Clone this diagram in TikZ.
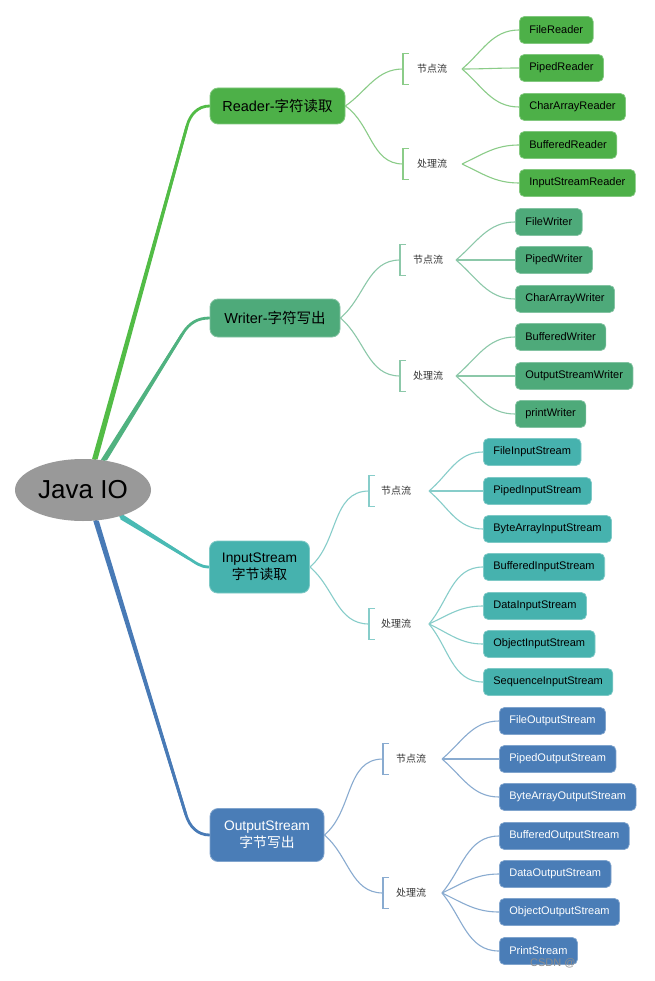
\documentclass[tikz,border=0pt]{standalone}
\usepackage{fontspec}
\setmainfont{Liberation Sans}
\newfontfamily\cjk{Noto Sans CJK SC}
\usetikzlibrary{shapes.geometric,calc}
\pgfdeclarelayer{back}
\pgfdeclarelayer{bg}
\pgfsetlayers{back,bg,main}
\definecolor{rootgray}{RGB}{153,153,153}
\definecolor{rdbox}{RGB}{77,176,72}
\definecolor{rdline}{RGB}{82,188,70}
\definecolor{wrbox}{RGB}{78,170,122}
\definecolor{wrline}{RGB}{80,178,128}
\definecolor{isbox}{RGB}{70,178,174}
\definecolor{isline}{RGB}{74,186,180}
\definecolor{osbox}{RGB}{74,125,183}
\definecolor{osline}{RGB}{72,122,182}
\tikzset{
  leaf/.style={rounded corners=5pt, minimum height=27pt, inner xsep=10pt, anchor=west,
    font=\fontsize{11}{13}\selectfont, line width=0.7pt},
  mainbox/.style={rounded corners=8pt, align=center, line width=0.8pt, inner sep=2pt},
  lvA/.style={font=\fontsize{14.5}{17}\selectfont},
  lvB/.style={font=\fontsize{13.8}{17}\selectfont},
  cat/.style={font=\cjk\fontsize{10}{12}\selectfont, text=black!80, inner sep=1pt},
  twig/.style={line width=1.1pt},
  trunk/.style={line width=2.8pt, line cap=round},
  rdleaf/.style={leaf, fill=rdbox, draw=rdbox!70!white, text=black},
  wrleaf/.style={leaf, fill=wrbox, draw=wrbox!70!white, text=black},
  isleaf/.style={leaf, fill=isbox, draw=isbox!70!white, text=black},
  osleaf/.style={leaf, fill=osbox, draw=osbox!70!white, text=white},
}
\begin{document}
\begin{tikzpicture}[x=1pt,y=-1pt]
\begin{pgfonlayer}{back}
\fill[white] (0,0) rectangle (654,981);
\end{pgfonlayer}
\useasboundingbox (0,0) rectangle (654,981);

% root
\node[ellipse, fill=rootgray, minimum width=136pt, minimum height=62pt, inner sep=0pt,
  font=\fontsize{26}{30}\selectfont] (root) at (83,490) {Java IO};

% level 1
\node[mainbox, lvA, fill=rdbox, draw=rdbox!70!white, minimum width=135pt, minimum height=36pt]
  (reader) at (277.5,106) {Reader-{\cjk 字符读取}};
\node[mainbox, lvA, fill=wrbox, draw=wrbox!70!white, minimum width=130pt, minimum height=38pt]
  (writer) at (275,318) {Writer-{\cjk 字符写出}};
\node[mainbox, lvB, fill=isbox, draw=isbox!70!white, minimum width=100pt, minimum height=52pt]
  (instream) at (259.5,567) {InputStream\\{\cjk 字节读取}};
\node[mainbox, lvB, fill=osbox, draw=osbox!70!white, text=white, minimum width=114pt, minimum height=53pt]
  (outstream) at (267,835) {OutputStream\\{\cjk 字节写出}};

% trunks (tapered)
\coordinate (rdbend) at (187,126);
\coordinate (wrbend) at (183,333);
\coordinate (isbend) at (188,558);
\coordinate (osbend) at (186,815);
\begin{pgfonlayer}{bg}
\draw[trunk, rdline] (root.69) -- (rdbend) to[out=75,in=180] (reader.west);
\fill[rdline] ($(root.69)+(-2.8,0)$) -- ($(rdbend)+(-1.4,0)$) -- ($(rdbend)+(1.4,0)$) -- ($(root.69)+(2.8,0)$) -- cycle;
\draw[trunk, wrline] (root.55) -- (wrbend) to[out=57,in=180] (writer.west);
\fill[wrline] ($(root.55)+(-3.2,0)$) -- ($(wrbend)+(-1.6,0)$) -- ($(wrbend)+(1.6,0)$) -- ($(root.55)+(3.2,0)$) -- cycle;
\draw[trunk, isline] (root.-35) -- (isbend) to[out=-31,in=180] (instream.west);
\fill[isline] ($(root.-35)+(0,-3.2)$) -- ($(isbend)+(0,-1.6)$) -- ($(isbend)+(0,1.6)$) -- ($(root.-35)+(0,3.2)$) -- cycle;
\draw[trunk, osline] (root.-67) -- (osbend) to[out=-73,in=180] (outstream.west);
\fill[osline] ($(root.-67)+(-2.8,0)$) -- ($(osbend)+(-1.4,0)$) -- ($(osbend)+(1.4,0)$) -- ($(root.-67)+(2.8,0)$) -- cycle;
\end{pgfonlayer}

% ---------- Reader ----------
\node[cat] (rdA) at (432,69) {节点流};
\node[cat] (rdB) at (432,164) {处理流};
\coordinate (rdAb) at (403,69);
\coordinate (rdBb) at (403,164);
\coordinate (rdAf) at (462,69);
\coordinate (rdBf) at (462,164);
\draw[twig, rdbox!65!white] (rdAb) ++(6,-15.5) -- ++(-6,0) -- ++(0,31) -- ++(6,0);
\draw[twig, rdbox!65!white] (rdBb) ++(6,-15.5) -- ++(-6,0) -- ++(0,31) -- ++(6,0);
\draw[twig, rdbox!65!white] (reader.east) to[out=35,in=180] (rdAb);
\draw[twig, rdbox!65!white] (reader.east) to[out=-35,in=180] (rdBb);
\foreach \nm/\y/\o in {FileReader/30/40, PipedReader/68/0, CharArrayReader/107/-40}{
  \node[rdleaf] (\nm) at (519,\y) {\nm};
  \draw[twig, rdbox!65!white] (rdAf) to[out=\o,in=180] (\nm.west);
}
\foreach \nm/\y/\o in {BufferedReader/145/25, InputStreamReader/183/-25}{
  \node[rdleaf] (\nm) at (519,\y) {\nm};
  \draw[twig, rdbox!65!white] (rdBf) to[out=\o,in=180] (\nm.west);
}

% ---------- Writer ----------
\node[cat] (wrA) at (428,260) {节点流};
\node[cat] (wrB) at (428,376) {处理流};
\coordinate (wrAb) at (400,260);
\coordinate (wrBb) at (400,376);
\coordinate (wrAf) at (456,260);
\coordinate (wrBf) at (456,376);
\draw[twig, wrbox!65!white] (wrAb) ++(6,-15.5) -- ++(-6,0) -- ++(0,31) -- ++(6,0);
\draw[twig, wrbox!65!white] (wrBb) ++(6,-15.5) -- ++(-6,0) -- ++(0,31) -- ++(6,0);
\draw[twig, wrbox!65!white] (writer.east) to[out=40,in=180] (wrAb);
\draw[twig, wrbox!65!white] (writer.east) to[out=-40,in=180] (wrBb);
\foreach \nm/\y/\o in {FileWriter/222/40, PipedWriter/260/0, CharArrayWriter/299/-40}{
  \node[wrleaf] (\nm) at (515,\y) {\nm};
  \draw[twig, wrbox!65!white] (wrAf) to[out=\o,in=180] (\nm.west);
}
\foreach \nm/\y/\o in {BufferedWriter/337/40, OutputStreamWriter/376/0, printWriter/414/-40}{
  \node[wrleaf] (\nm) at (515,\y) {\nm};
  \draw[twig, wrbox!65!white] (wrBf) to[out=\o,in=180] (\nm.west);
}

% ---------- InputStream ----------
\node[cat] (isA) at (396,491) {节点流};
\node[cat] (isB) at (396,624) {处理流};
\coordinate (isAb) at (369,491);
\coordinate (isBb) at (369,624);
\coordinate (isAf) at (429,491);
\coordinate (isBf) at (429,624);
\draw[twig, isbox!65!white] (isAb) ++(6,-15.5) -- ++(-6,0) -- ++(0,31) -- ++(6,0);
\draw[twig, isbox!65!white] (isBb) ++(6,-15.5) -- ++(-6,0) -- ++(0,31) -- ++(6,0);
\draw[twig, isbox!65!white] (instream.east) to[out=40,in=180] (isAb);
\draw[twig, isbox!65!white] (instream.east) to[out=-40,in=180] (isBb);
\foreach \nm/\y/\o in {FileInputStream/452/40, PipedInputStream/491/0, ByteArrayInputStream/529/-40}{
  \node[isleaf] (\nm) at (483,\y) {\nm};
  \draw[twig, isbox!65!white] (isAf) to[out=\o,in=180] (\nm.west);
}
\foreach \nm/\y/\o in {BufferedInputStream/567/50, DataInputStream/606/25, ObjectInputStream/644/-25, SequenceInputStream/682/-50}{
  \node[isleaf] (\nm) at (483,\y) {\nm};
  \draw[twig, isbox!65!white] (isBf) to[out=\o,in=180] (\nm.west);
}

% ---------- OutputStream ----------
\node[cat] (osA) at (411,759) {节点流};
\node[cat] (osB) at (411,893) {处理流};
\coordinate (osAb) at (383,759);
\coordinate (osBb) at (383,893);
\coordinate (osAf) at (442,759);
\coordinate (osBf) at (442,893);
\draw[twig, osbox!65!white] (osAb) ++(6,-15.5) -- ++(-6,0) -- ++(0,31) -- ++(6,0);
\draw[twig, osbox!65!white] (osBb) ++(6,-15.5) -- ++(-6,0) -- ++(0,31) -- ++(6,0);
\draw[twig, osbox!65!white] (outstream.east) to[out=40,in=180] (osAb);
\draw[twig, osbox!65!white] (outstream.east) to[out=-40,in=180] (osBb);
\foreach \nm/\y/\o in {FileOutputStream/721/40, PipedOutputStream/759/0, ByteArrayOutputStream/797/-40}{
  \node[osleaf] (\nm) at (499,\y) {\nm};
  \draw[twig, osbox!65!white] (osAf) to[out=\o,in=180] (\nm.west);
}
\foreach \nm/\y/\o in {BufferedOutputStream/836/50, DataOutputStream/874/25, ObjectOutputStream/912/-25, PrintStream/951/-50}{
  \node[osleaf] (\nm) at (499,\y) {\nm};
  \draw[twig, osbox!65!white] (osBf) to[out=\o,in=180] (\nm.west);
}

% watermark
\node[text=black!45, font=\fontsize{11}{12}\selectfont, anchor=west, inner sep=0pt] (wm) at (530,963) {CSDN @};
\end{tikzpicture}
\end{document}
